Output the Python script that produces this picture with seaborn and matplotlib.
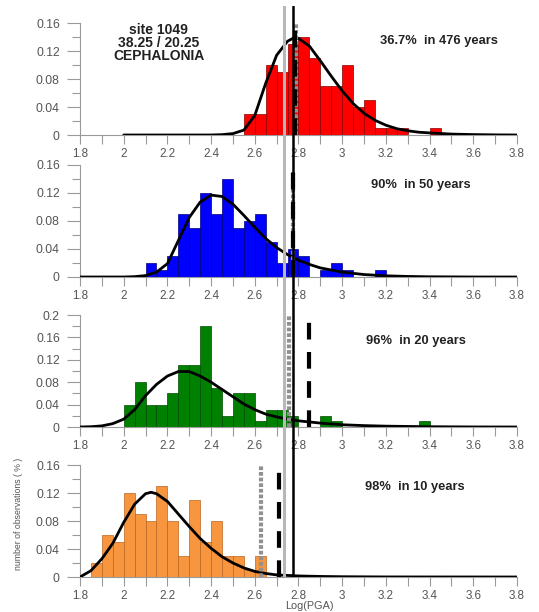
import numpy as np
import pandas as pd
import matplotlib
matplotlib.use("Agg")
import matplotlib.pyplot as plt
import seaborn as sns

# histogram bar heights, bins of 0.05 in Log(PGA), first left edge given
bin_width = 0.05
start1 = 2.55
heights1 = [0.03, 0.03, 0.10, 0.09, 0.13, 0.14, 0.11, 0.07, 0.07, 0.10, 0.04, 0.05,
            0.01, 0.01, 0.01, 0.0, 0.0, 0.01]
start2 = 2.10
heights2 = [0.02, 0.01, 0.03, 0.09, 0.07, 0.12, 0.09, 0.14, 0.07, 0.08, 0.09, 0.05,
            0.02, 0.04, 0.03, 0.0, 0.01, 0.02, 0.01, 0.0, 0.0, 0.01]
start3 = 2.00
heights3 = [0.04, 0.08, 0.04, 0.04, 0.06, 0.11, 0.11, 0.18, 0.07, 0.02, 0.06, 0.06,
            0.01, 0.03, 0.03, 0.02, 0.0, 0.0, 0.02, 0.01, 0.0, 0.0, 0.0, 0.0,
            0.0, 0.0, 0.0, 0.01]
start4 = 1.85
heights4 = [0.02, 0.06, 0.05, 0.12, 0.09, 0.08, 0.13, 0.08, 0.03, 0.11, 0.05, 0.08,
            0.03, 0.03, 0.01, 0.03]

# fitted curves
curve1_x = [2.0, 2.4, 2.45, 2.5, 2.55, 2.6, 2.65, 2.7, 2.75, 2.78, 2.8, 2.85, 2.9, 2.95,
            3.0, 3.05, 3.1, 3.15, 3.2, 3.25, 3.3, 3.35, 3.4, 3.5, 3.6, 3.7, 3.8]
curve1_y = [0.0, 0.0, 0.0005, 0.002, 0.007, 0.028, 0.074, 0.114, 0.134, 0.139, 0.138,
            0.127, 0.106, 0.084, 0.063, 0.045, 0.031, 0.021, 0.014, 0.009, 0.006,
            0.004, 0.003, 0.0013, 0.0006, 0.0002, 0.0]
curve2_x = [1.8, 2.0, 2.05, 2.1, 2.15, 2.2, 2.25, 2.3, 2.35, 2.4, 2.45, 2.5, 2.55, 2.6,
            2.65, 2.7, 2.75, 2.8, 2.85, 2.9, 2.95, 3.0, 3.1, 3.2, 3.3, 3.4, 3.6, 3.8]
curve2_y = [0.0, 0.0, 0.0005, 0.002, 0.007, 0.019, 0.052, 0.085, 0.107, 0.117, 0.115,
            0.104, 0.088, 0.071, 0.055, 0.042, 0.032, 0.024, 0.018, 0.013, 0.010,
            0.007, 0.0035, 0.0017, 0.0008, 0.0003, 0.0, 0.0]
curve3_x = [1.8, 1.85, 1.9, 1.95, 2.0, 2.05, 2.1, 2.15, 2.2, 2.25, 2.3, 2.35, 2.4, 2.45,
            2.5, 2.55, 2.6, 2.65, 2.7, 2.75, 2.8, 2.85, 2.9, 3.0, 3.1, 3.2, 3.4, 3.6, 3.8]
curve3_y = [0.0, 0.0005, 0.002, 0.006, 0.014, 0.031, 0.056, 0.076, 0.091, 0.099, 0.099,
            0.091, 0.080, 0.067, 0.054, 0.041, 0.031, 0.023, 0.018, 0.014, 0.011,
            0.009, 0.007, 0.004, 0.0025, 0.0015, 0.0005, 0.0001, 0.0]
curve4_x = [1.8, 1.85, 1.9, 1.95, 2.0, 2.05, 2.1, 2.125, 2.15, 2.2, 2.25, 2.3, 2.35, 2.4,
            2.45, 2.5, 2.55, 2.6, 2.65, 2.7, 2.8, 2.9, 3.0, 3.2, 3.8]
curve4_y = [0.0, 0.009, 0.026, 0.048, 0.078, 0.104, 0.119, 0.121, 0.119, 0.108, 0.090,
            0.072, 0.055, 0.041, 0.029, 0.020, 0.013, 0.008, 0.005, 0.003, 0.0015,
            0.0008, 0.0004, 0.0001, 0.0]

# per panel vertical marks
dashed_x = [2.782, 2.775, 2.85, 2.71]
dashed_top = [0.16, 0.15, 0.2, 0.155]
dotted_x = [2.789, 2.775, 2.757, 2.628]
dotted_top = [0.16, 0.15, 0.198, 0.158]
# lines crossing the whole figure
gray_line_x = 2.735
black_line_x = 2.777

labels = ["36.7%  in 476 years", "90%  in 50 years", "96%  in 20 years", "98%  in 10 years"]
label_pos = [(3.175, 0.134), (3.13, 0.131), (3.11, 0.154), (3.105, 0.129)]
site_text = "site 1049\n38.25 / 20.25\nCEPHALONIA"

xtick_vals = [1.8, 2.0, 2.2, 2.4, 2.6, 2.8, 3.0, 3.2, 3.4, 3.6, 3.8]
xtick_labels = ["1.8", "2", "2.2", "2.4", "2.6", "2.8", "3", "3.2", "3.4", "3.6", "3.8"]
ytick_vals = [[0, 0.04, 0.08, 0.12, 0.16], [0, 0.04, 0.08, 0.12, 0.16],
              [0, 0.04, 0.08, 0.12, 0.16, 0.2], [0, 0.04, 0.08, 0.12, 0.16]]
ytick_labels = [["0", "0.04", "0.08", "0.12", "0.16"], ["0", "0.04", "0.08", "0.12", "0.16"],
                ["0", "0.04", "0.08", "0.12", "0.16", "0.2"], ["0", "0.04", "0.08", "0.12", "0.16"]]
ymax = [0.16, 0.16, 0.2, 0.16]

starts = [start1, start2, start3, start4]
heights = [heights1, heights2, heights3, heights4]
curves = [(curve1_x, curve1_y), (curve2_x, curve2_y), (curve3_x, curve3_y), (curve4_x, curve4_y)]
colors = ["#ff0000", "#0000ff", "#008000", "#f7963f"]
edges_c = ["#8a0000", "#00007a", "#004a00", "#b8651f"]

sns.set_style("ticks")
plt.rcParams['font.family'] = ['Liberation Sans', 'DejaVu Sans']

W, H = 539, 612
fig = plt.figure(figsize=(W / 100, H / 100), dpi=100)
baselines = [135, 277, 427, 577]
tick_c = "#9a9a9a"
text_c = "#555555"

axes = []
for i in range(4):
    ax = fig.add_axes([80 / W, (H - baselines[i]) / H, 437 / W, 112 / H])
    axes.append(ax)
    h = heights[i]
    edges = [round(starts[i] + bin_width * k, 3) for k in range(len(h) + 1)]
    df = pd.DataFrame({"x": [e + bin_width / 2 for e in edges[:-1]], "w": h})
    sns.histplot(data=df, x="x", weights="w", bins=edges, ax=ax, color=colors[i],
                 edgecolor=edges_c[i], linewidth=0.5, alpha=1, stat="count")
    cx, cy = curves[i]
    sns.lineplot(x=cx, y=cy, ax=ax, color="black", linewidth=2.0, zorder=4)

    ax.plot([dotted_x[i], dotted_x[i]], [0, dotted_top[i]], color="#909090", lw=3.0,
            dashes=(0.9, 0.45), zorder=5)
    ax.plot([dashed_x[i], dashed_x[i]], [0, dashed_top[i]], color="black", lw=3.0,
            dashes=(4, 3), zorder=6)

    ax.text(label_pos[i][0], label_pos[i][1], labels[i], fontsize=9.3, fontweight="bold",
            color="#222222", va="center", ha="left")

    ax.set_xlim(1.8, 3.8)
    ax.set_ylim(0, ymax[i])
    ax.set_xticks(xtick_vals)
    ax.set_xticklabels(xtick_labels)
    ax.set_xticks(np.round(np.arange(1.9, 3.8, 0.2), 2), minor=True)
    ax.set_yticks(ytick_vals[i])
    ax.set_yticklabels(ytick_labels[i])
    ax.set_yticks(np.round(np.arange(0.02, ymax[i], 0.04), 2), minor=True)
    ax.tick_params(axis="x", which="both", direction="out", length=6.5, width=0.8,
                   color=tick_c, labelcolor=text_c, labelsize=8.4, pad=3.2)
    ax.tick_params(axis="y", which="major", direction="out", length=9.5, width=0.8,
                   color=tick_c, labelcolor=text_c, labelsize=8.7, pad=5)
    ax.tick_params(axis="y", which="minor", direction="out", length=6, width=0.8,
                   color=tick_c)
    sns.despine(ax=ax)
    for s in ["left", "bottom"]:
        ax.spines[s].set_color(tick_c)
        ax.spines[s].set_linewidth(0.8)
    ax.set_ylabel("")
    ax.set_xlabel("")

axes[0].text(2.16, 0.131, site_text, fontsize=10, fontweight="bold", color="#222222",
             ha="center", va="center", linespacing=0.92)

axes[3].set_xlabel("Log(PGA)", fontsize=7.8, color=text_c)
axes[3].xaxis.set_label_coords(0.526, -0.216)
axes[3].set_ylabel("number of observations ( % )", fontsize=6.3, color=text_c)
axes[3].yaxis.set_label_coords(-0.13, 0.56)

# vertical lines running through all panels
ov = fig.add_axes([80 / W, (H - 577) / H, 437 / W, (577 - 6) / H])
ov.set_xlim(1.8, 3.8)
ov.set_ylim(0, 1)
ov.axis("off")
ov.patch.set_alpha(0)
ov.axvline(gray_line_x, color="#b8b8b8", lw=2.2)
ov.axvline(black_line_x, color="black", lw=1.8)

fig.savefig("out.png", dpi=100)
